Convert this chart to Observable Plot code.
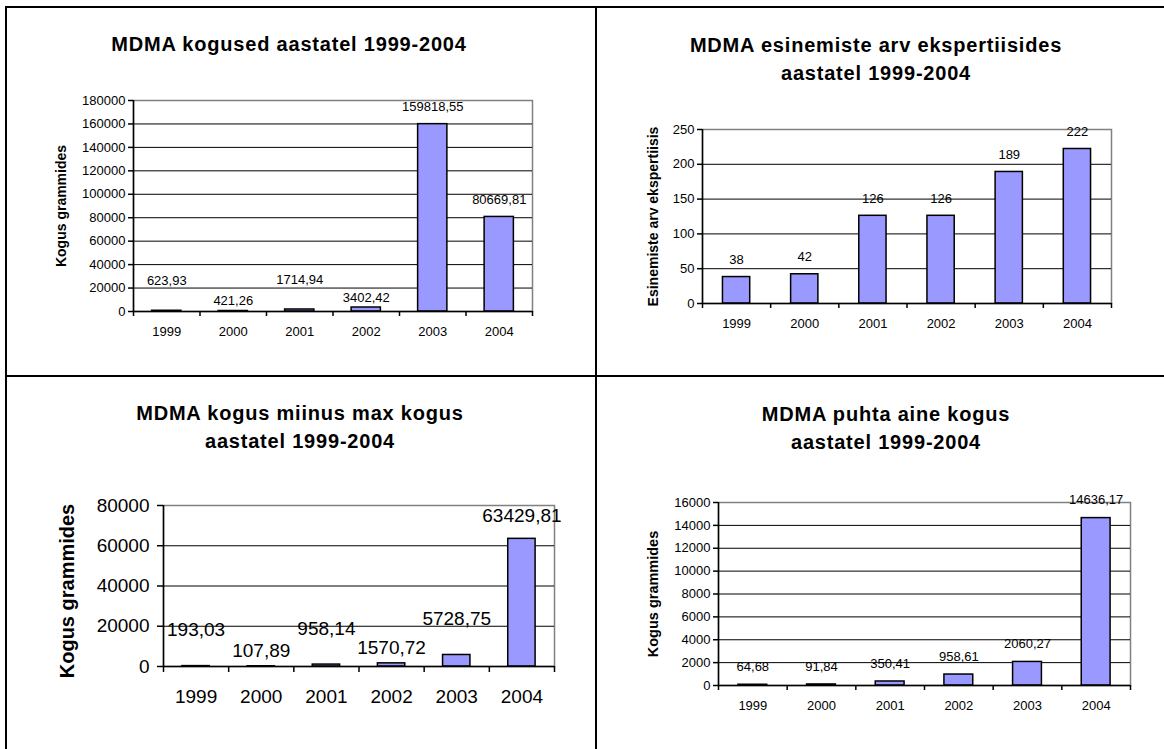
<!DOCTYPE html>
<html><head><meta charset="utf-8">
<script src="https://cdn.jsdelivr.net/npm/d3@7"></script>
<script src="https://cdn.jsdelivr.net/npm/@observablehq/plot@0.6"></script>
<style>
body{margin:0;background:#fff;}
#root{position:relative;width:1164px;height:749px;overflow:hidden;background:#fff;font-family:"Liberation Sans",Arial,sans-serif;}
.line{position:absolute;background:#000;}
.title{position:absolute;width:600px;text-align:center;font-weight:bold;font-size:20px;line-height:28px;letter-spacing:0.8px;color:#000;}
.chart{position:absolute;}
</style></head><body><div id="root"></div>
<script>
const years = [1999, 2000, 2001, 2002, 2003, 2004];
const kogused = [623.93, 421.26, 1714.94, 3402.42, 159818.55, 80669.81];
const esinemised = [38, 42, 126, 126, 189, 222];
const miinusMax = [193.03, 107.89, 958.14, 1570.72, 5728.75, 63429.81];
const puhtaAine = [64.68, 91.84, 350.41, 958.61, 2060.27, 14636.17];
const ticksKogused = [0, 20000, 40000, 60000, 80000, 100000, 120000, 140000, 160000, 180000];
const ticksEsinemised = [0, 50, 100, 150, 200, 250];
const ticksMiinus = [0, 20000, 40000, 60000, 80000];
const ticksPuhta = [0, 2000, 4000, 6000, 8000, 10000, 12000, 14000, 16000];
const titles = [
  ["MDMA kogused aastatel 1999-2004"],
  ["MDMA esinemiste arv ekspertiisides", "aastatel 1999-2004"],
  ["MDMA kogus miinus max kogus", "aastatel 1999-2004"],
  ["MDMA puhta aine kogus", "aastatel 1999-2004"]
];
const yLabels = ["Kogus grammides", "Esinemiste arv ekspertiisis", "Kogus grammides", "Kogus grammides"];

const root = document.getElementById("root");
function addLine(l, t, w, h) {
  const d = document.createElement("div"); d.className = "line";
  Object.assign(d.style, {left: l + "px", top: t + "px", width: w + "px", height: h + "px"});
  root.appendChild(d);
}
addLine(5, 6, 1159, 2);
addLine(5, 6, 2, 743);
addLine(595, 6, 2, 743);
addLine(5, 375, 1159, 2);

function addTitle(lines, cx, top) {
  const d = document.createElement("div"); d.className = "title";
  d.style.left = (cx - 300) + "px"; d.style.top = top + "px";
  d.innerHTML = lines.map(s => `<div>${s}</div>`).join("");
  root.appendChild(d);
}
addTitle(titles[0], 289, 30);
addTitle(titles[1], 876, 31);
addTitle(titles[2], 300, 399);
addTitle(titles[3], 886, 400);

const fmt = v => String(v).replace(".", ",");

function chart(values, yTicks, o) {
  const data = years.map((year, i) => ({year, value: values[i], i}));
  const lo = years[0] - 0.5, hi = years[years.length - 1] + 0.5;
  const bounds = years.map(y => y - 0.5).concat([hi]);
  const ymax = yTicks[yTicks.length - 1];
  // small labels alternate up/down (as in the original) so neighbours don't collide
  const small = d => o.stagger && d.value < 0.1 * ymax;
  const up = data.filter(d => small(d) && d.i % 2 === 0);
  const down = data.filter(d => small(d) && d.i % 2 === 1);
  const normal = data.filter(d => !small(d));
  const labelMark = (arr, extra) => Plot.text(arr, {x: "year", y: "value", text: d => fmt(d.value), dy: o.dy + extra, fontSize: o.lfs});
  const svg = Plot.plot({
    width: o.width, height: o.height,
    marginLeft: o.ml, marginRight: o.mr, marginTop: o.mt, marginBottom: o.mb,
    style: {fontFamily: '"Liberation Sans", Arial, sans-serif', fontSize: o.fs + "px", color: "#000", background: "transparent", overflow: "visible"},
    x: {domain: [lo, hi], label: null},
    y: {domain: [0, ymax], label: null},
    marks: [
      Plot.frame({stroke: "#808080", strokeWidth: 1.5}),
      Plot.ruleY(yTicks.filter(t => t > 0 && t < ymax), {stroke: "#000", strokeWidth: 1}),
      Plot.rect(data, {x1: d => d.year - o.hw, x2: d => d.year + o.hw, y1: 0, y2: "value", fill: "#9999ff", stroke: "#000", strokeWidth: 1.5}),
      Plot.ruleY([0], {stroke: "#000", strokeWidth: 1.5}),
      Plot.ruleX([lo], {stroke: "#000", strokeWidth: 1.5}),
      Plot.axisY({ticks: yTicks, tickSize: o.ts, tickPadding: o.tp, tickFormat: d3.format("d"), label: null, strokeWidth: 1.5}),
      Plot.axisX({ticks: bounds, tickSize: o.ts, tickFormat: () => "", label: null, strokeWidth: 1.5}),
      Plot.axisX({ticks: years, tickSize: 0, tickPadding: o.xp, tickFormat: d => String(d), label: null}),
      labelMark(normal, 0),
      labelMark(up, -(o.stagger || 0)),
      labelMark(down, (o.stagger || 0) * 0.55),
      Plot.text([o.ylabel], {text: d => d, frameAnchor: "left", textAnchor: "middle", rotate: -90, dx: o.ydx, dy: o.ydy || 0, fontWeight: "bold", fontSize: o.yfs})
    ]
  });
  svg.classList.add("chart");
  svg.style.left = o.left + "px"; svg.style.top = o.top + "px";
  root.appendChild(svg);
}

chart(kogused, ticksKogused, {left: 0, top: 60, width: 580, height: 310, ml: 133, mr: 48, mt: 40, mb: 59,
  fs: 13, lfs: 13, yfs: 14, ts: 5, tp: 3, xp: 15, dy: -17, hw: 0.22, ylabel: yLabels[0], ydx: -72, stagger: 13});
chart(esinemised, ticksEsinemised, {left: 600, top: 60, width: 560, height: 310, ml: 102, mr: 49, mt: 69, mb: 67,
  fs: 13, lfs: 13, yfs: 14, ts: 5, tp: 3, xp: 15, dy: -17, hw: 0.2, ylabel: yLabels[1], ydx: -49});
chart(miinusMax, ticksMiinus, {left: 0, top: 460, width: 580, height: 285, ml: 163, mr: 26, mt: 45, mb: 79,
  fs: 19, lfs: 19, yfs: 20, ts: 6, tp: 8, xp: 23, dy: -23, hw: 0.21, ylabel: yLabels[2], ydx: -96, ydy: 5, stagger: 13});
chart(puhtaAine, ticksPuhta, {left: 600, top: 460, width: 560, height: 285, ml: 118, mr: 30, mt: 42, mb: 60,
  fs: 13, lfs: 13, yfs: 14.5, ts: 5, tp: 3, xp: 15, dy: -18, hw: 0.21, ylabel: yLabels[3], ydx: -65});
</script></body></html>
